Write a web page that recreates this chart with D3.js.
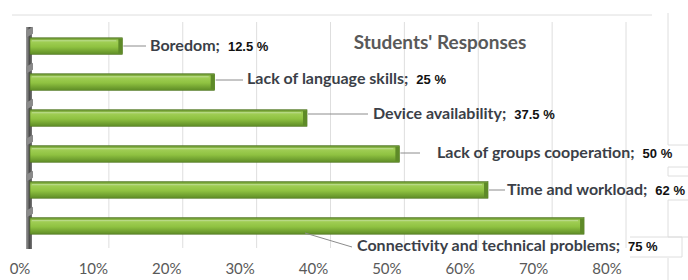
<!DOCTYPE html>
<html>
<head>
<meta charset="utf-8">
<script src="https://cdn.jsdelivr.net/npm/d3@7"></script>
<style>
  body { margin: 0; background: #fff; }
  svg { display: block; }
</style>
</head>
<body>
<svg id="chart" width="688" height="280"></svg>
<script>
// data
var categories = ['Boredom', 'Lack of language skills', 'Device availability',
  'Lack of groups cooperation', 'Time and workload', 'Connectivity and technical problems'];
var values = [12.5, 25, 37.5, 50, 62, 75];
var valueLabels = ['12.5 %', '25 %', '37.5 %', '50 %', '62 %', '75 %'];
var tickValues = [0, 10, 20, 30, 40, 50, 60, 70, 80];

var svg = d3.select('#chart');

var x = d3.scaleLinear().domain([0, 80]).range([30, 621]);
var y = d3.scaleBand().domain(categories).range([27, 245]).paddingInner(0.54).paddingOuter(0.3);

// gradients
var defs = svg.append('defs');
var g1 = defs.append('linearGradient').attr('id', 'barGrad')
  .attr('x1', 0).attr('y1', 0).attr('x2', 0).attr('y2', 1);
g1.append('stop').attr('offset', '0%').attr('stop-color', '#5f8a2a');
g1.append('stop').attr('offset', '18%').attr('stop-color', '#a3d058');
g1.append('stop').attr('offset', '55%').attr('stop-color', '#8fc241');
g1.append('stop').attr('offset', '100%').attr('stop-color', '#5e8c26');
var g2 = defs.append('linearGradient').attr('id', 'wallGrad')
  .attr('x1', 0).attr('y1', 0).attr('x2', 1).attr('y2', 0);
g2.append('stop').attr('offset', '0%').attr('stop-color', '#a0a0a0');
g2.append('stop').attr('offset', '60%').attr('stop-color', '#4a4a4a');
g2.append('stop').attr('offset', '100%').attr('stop-color', '#7a7a7a');

// frame
var frame = svg.append('g').attr('stroke', '#dedede').attr('fill', 'none');
frame.append('line').attr('x1', 12).attr('x2', 652).attr('y1', 15).attr('y2', 15);
frame.append('path').attr('d', 'M668,13 L668,145 L688,145');
frame.append('path').attr('d', 'M688,167 L668,167 L668,176 L688,176');
frame.append('path').attr('d', 'M688,200 L668,200 L668,237 L688,237');
frame.append('path').attr('d', 'M630,237 L682,237 L682,257 L630,257');
frame.append('line').attr('x1', 668).attr('x2', 668).attr('y1', 258).attr('y2', 280);

// gridlines (back wall, slightly offset)
svg.append('g').selectAll('line')
  .data(tickValues.slice(1))
  .join('line')
  .attr('x1', function(d) { return x(d) + 5; })
  .attr('x2', function(d) { return x(d) + 5; })
  .attr('y1', 22).attr('y2', 248)
  .attr('stroke', '#dedede');

// tick labels
svg.append('g').selectAll('text')
  .data(tickValues)
  .join('text')
  .attr('x', function(d) { return x(d) - 10 - d * 0.05; })
  .attr('y', 274)
  .attr('text-anchor', 'middle')
  .attr('font-family', 'Lato, "Open Sans", sans-serif')
  .attr('font-size', 15)
  .attr('fill', '#595959')
  .text(function(d) { return d + '%'; });

// left base wall
svg.append('rect').attr('x', 26).attr('y', 27).attr('width', 6).attr('height', 222)
  .attr('fill', 'url(#wallGrad)');
svg.append('g').selectAll('path')
  .data(categories)
  .join('path')
  .attr('d', function(d) {
    var yy = y(d) - 7;
    return 'M26,' + yy + ' L33,' + (yy - 4) + ' L33,' + (yy + 3) + ' L26,' + (yy + 7) + 'Z';
  })
  .attr('fill', '#8a8a8a');

// bars
var bars = svg.append('g');
bars.selectAll('rect.bar')
  .data(values)
  .join('rect')
  .attr('class', 'bar')
  .attr('x', x(0))
  .attr('y', function(d, i) { return y(categories[i]); })
  .attr('width', function(d) { return x(d) - x(0); })
  .attr('height', y.bandwidth())
  .attr('fill', 'url(#barGrad)')
  .attr('stroke', '#4f7420')
  .attr('stroke-width', 0.6);
// end caps
bars.selectAll('rect.cap')
  .data(values)
  .join('rect')
  .attr('class', 'cap')
  .attr('x', function(d) { return x(d) - 4; })
  .attr('y', function(d, i) { return y(categories[i]) + 1; })
  .attr('width', 4)
  .attr('height', y.bandwidth() - 2)
  .attr('fill', '#5e8a28');
// highlight line on top of bars
bars.selectAll('line.hl')
  .data(values)
  .join('line')
  .attr('class', 'hl')
  .attr('x1', x(0) + 2)
  .attr('x2', function(d) { return x(d) - 6; })
  .attr('y1', function(d, i) { return y(categories[i]) + 3; })
  .attr('y2', function(d, i) { return y(categories[i]) + 3; })
  .attr('stroke', '#bddc90')
  .attr('stroke-width', 1);

// labels
var labelPos = [
  { lx: 150, ly: 46, l1: [x(values[0]) + 1, 46], l2: [146, 46] },
  { lx: 247, ly: 79, l1: [x(values[1]) + 1, 80], l2: [243, 80] },
  { lx: 373, ly: 114, l1: [x(values[2]) + 1, 114], l2: [368, 114] },
  { lx: 437, ly: 153, l1: [x(values[3]) + 1, 153], l2: [420, 153] },
  { lx: 507, ly: 190, l1: [x(values[4]) + 1, 190], l2: [505, 190] },
  { lx: 357, ly: 246, l1: [305, 233], l2: [352, 247] }
];

svg.append('g').selectAll('line')
  .data(labelPos)
  .join('line')
  .attr('x1', function(d) { return d.l1[0]; })
  .attr('y1', function(d) { return d.l1[1]; })
  .attr('x2', function(d) { return d.l2[0]; })
  .attr('y2', function(d) { return d.l2[1]; })
  .attr('stroke', '#8c8c8c')
  .attr('stroke-width', 1);

var labels = svg.append('g').selectAll('text')
  .data(labelPos)
  .join('text')
  .attr('x', function(d) { return d.lx; })
  .attr('y', function(d) { return d.ly + 5; })
  .attr('font-family', 'Lato, "Open Sans", sans-serif')
  .attr('font-weight', 'bold')
  .attr('font-size', 16)
  .attr('fill', '#3b3f48');
labels.append('tspan').text(function(d, i) { return categories[i] + ';'; });
labels.append('tspan')
  .attr('dx', 8)
  .attr('font-family', '"Liberation Sans", Arial, sans-serif')
  .attr('font-size', 13)
  .attr('fill', '#111')
  .text(function(d, i) { return valueLabels[i]; });

// title
svg.append('text')
  .attr('x', 440).attr('y', 49)
  .attr('text-anchor', 'middle')
  .attr('font-family', 'Lato, "Open Sans", sans-serif')
  .attr('font-weight', 'bold')
  .attr('font-size', 19)
  .attr('fill', '#595959')
  .text("Students' Responses");
</script>
</body>
</html>
